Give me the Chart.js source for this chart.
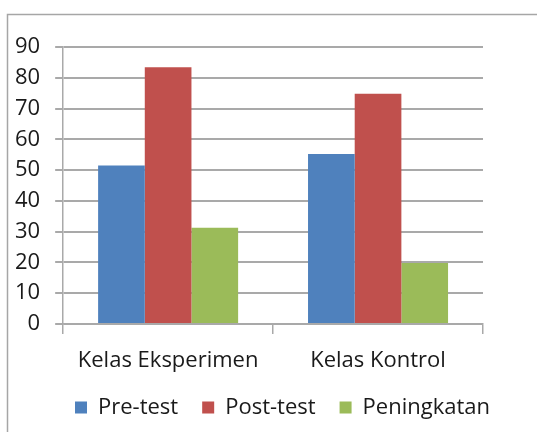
<!DOCTYPE html>
<html>
<head>
<meta charset="utf-8">
<style>
  html, body { margin: 0; padding: 0; background: #ffffff; }
  #wrap { width: 537px; height: 432px; position: relative; }
</style>
<script src="https://cdn.jsdelivr.net/npm/chart.js@4.4.1/dist/chart.umd.min.js"></script>
</head>
<body>
<div id="wrap"><canvas id="c" width="537" height="432"></canvas></div>
<script>
const categories = ["Kelas Eksperimen", "Kelas Kontrol"];
const seriesNames = ["Pre-test", "Post-test", "Peningkatan"];
const preTest = [51.5, 55.2];
const postTest = [83.4, 74.8];
const peningkatan = [31.3, 19.8];
const yTicks = [0, 10, 20, 30, 40, 50, 60, 70, 80, 90];
const colors = ["#4F81BD", "#C0504D", "#9BBB59"];

const FONT = "'Open Sans', 'Noto Sans', sans-serif";
const GRID = "#a9a9a9";
const TEXT = "#1a1a1a";

const framePlugin = {
  id: 'frame',
  beforeDraw(chart) {
    const ctx = chart.ctx;
    ctx.save();
    ctx.fillStyle = '#ffffff';
    ctx.fillRect(0, 0, chart.width, chart.height);
    ctx.strokeStyle = '#a6a6a6';
    ctx.lineWidth = 1.5;
    ctx.strokeRect(7.5, 14.5, chart.width + 40, chart.height + 40);
    ctx.restore();
  }
};

const legendShift = {
  id: 'legendShift',
  afterLayout(chart) {
    const lg = chart.legend;
    lg.left += 41;
    lg.right += 41;
  }
};

new Chart(document.getElementById('c'), {
  type: 'bar',
  data: {
    labels: categories,
    datasets: [
      { label: seriesNames[0], data: preTest, backgroundColor: colors[0] },
      { label: seriesNames[1], data: postTest, backgroundColor: colors[1] },
      { label: seriesNames[2], data: peningkatan, backgroundColor: colors[2] }
    ]
  },
  options: {
    responsive: false,
    animation: false,
    devicePixelRatio: 1,
    layout: { padding: { left: 0, right: 54, top: 47, bottom: 3.6 } },
    datasets: { bar: { categoryPercentage: 0.667, barPercentage: 1.0 } },
    plugins: {
      tooltip: { enabled: false },
      legend: {
        position: 'bottom',
        labels: {
          boxWidth: 12, boxHeight: 12, padding: 24,
          color: TEXT,
          font: { family: FONT, size: 22 }
        }
      }
    },
    scales: {
      x: {
        afterFit(scale) { scale.height = 48.4; },
        grid: { display: true, drawOnChartArea: false, drawTicks: true, tickLength: 10, color: GRID, lineWidth: 1.5, offset: true },
        border: { display: true, color: GRID, width: 1.5 },
        ticks: { color: TEXT, font: { family: FONT, size: 22 }, padding: 14, maxRotation: 0 }
      },
      y: {
        min: 0, max: 90,
        afterBuildTicks(axis) { axis.ticks = yTicks.map(v => ({ value: v })); },
        grid: { color: GRID, lineWidth: 2, tickLength: 8, drawTicks: true },
        border: { display: true, color: GRID, width: 1.5 },
        ticks: { color: TEXT, font: { family: FONT, size: 22 }, padding: 15 }
      }
    }
  },
  plugins: [framePlugin, legendShift]
});
</script>
</body>
</html>
